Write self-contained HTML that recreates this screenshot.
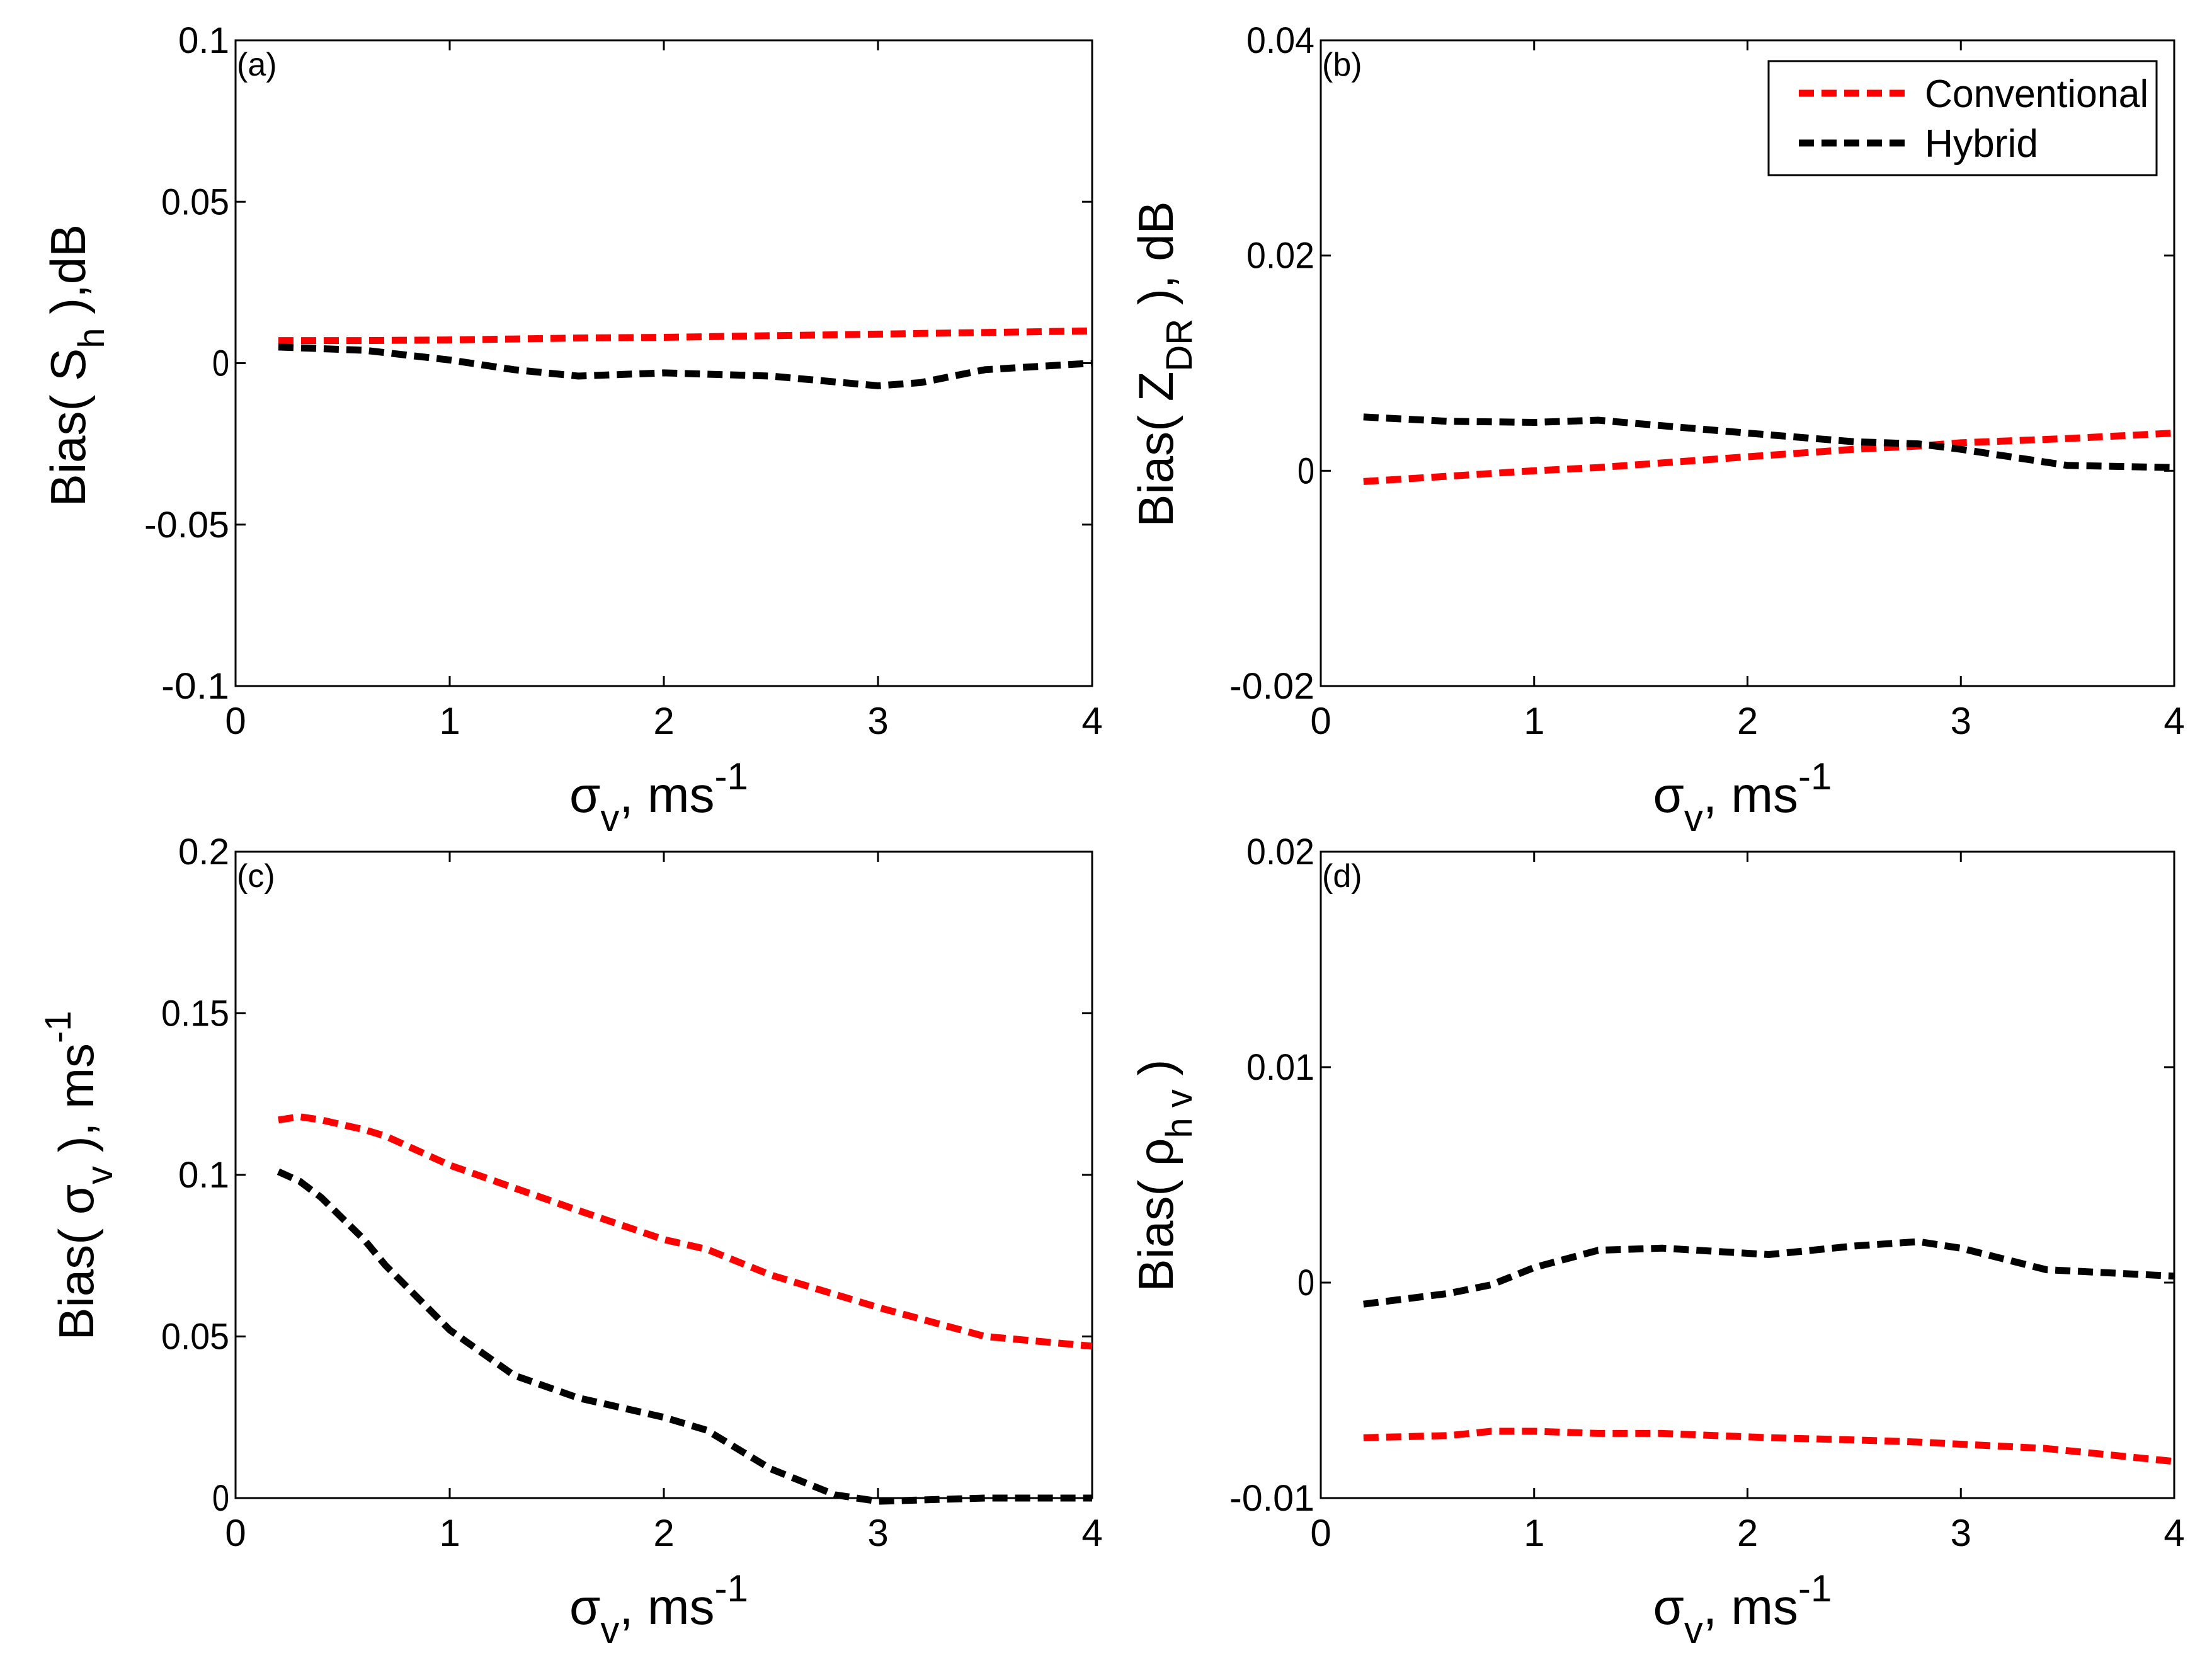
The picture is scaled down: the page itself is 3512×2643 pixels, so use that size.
<!DOCTYPE html>
<html><head><meta charset="utf-8"><style>
html,body{margin:0;padding:0;background:#fff;}
svg{display:block;font-family:"Liberation Sans",Arial,sans-serif;}
</style></head><body>
<svg id="fig" width="3512" height="2643" viewBox="0 0 3512 2643" xmlns="http://www.w3.org/2000/svg"></svg>
<script>
// ---- data ----
const xTicks = [0, 1, 2, 3, 4];
const aYTicks = [-0.1, -0.05, 0, 0.05, 0.1];
const aYLabels = ["-0.1", "-0.05", "0", "0.05", "0.1"];
const aX = [0.2, 0.6, 1.0, 1.3, 1.6, 2.0, 2.5, 3.0, 3.2, 3.5, 4.0];
const aConv = [0.007, 0.007, 0.0072, 0.0075, 0.0078, 0.008, 0.0085, 0.009, 0.0092, 0.0095, 0.010];
const aHyb = [0.005, 0.004, 0.001, -0.002, -0.004, -0.003, -0.004, -0.007, -0.006, -0.002, 0.0];

const bYTicks = [-0.02, 0, 0.02, 0.04];
const bYLabels = ["-0.02", "0", "0.02", "0.04"];
const bX = [0.2, 0.6, 1.0, 1.3, 2.0, 2.5, 2.8, 3.0, 3.5, 4.0];
const bConv = [-0.001, -0.0005, 0.0, 0.0003, 0.0013, 0.002, 0.0023, 0.0026, 0.003, 0.0035];
const bHyb = [0.005, 0.0046, 0.0045, 0.0047, 0.0035, 0.0027, 0.0025, 0.002, 0.0005, 0.0003];

const cYTicks = [0, 0.05, 0.1, 0.15, 0.2];
const cYLabels = ["0", "0.05", "0.1", "0.15", "0.2"];
const cX = [0.2, 0.3, 0.4, 0.6, 0.7, 1.0, 1.3, 1.6, 2.0, 2.2, 2.5, 2.8, 3.0, 3.5, 4.0];
const cConv = [0.117, 0.118, 0.117, 0.114, 0.112, 0.103, 0.096, 0.089, 0.080, 0.077, 0.069, 0.063, 0.059, 0.050, 0.047];
const cHyb = [0.101, 0.098, 0.093, 0.080, 0.072, 0.052, 0.038, 0.031, 0.025, 0.021, 0.009, 0.001, -0.001, 0.0, 0.0];

const dYTicks = [-0.01, 0, 0.01, 0.02];
const dYLabels = ["-0.01", "0", "0.01", "0.02"];
const dX = [0.2, 0.6, 0.8, 1.0, 1.3, 1.6, 2.1, 2.5, 2.8, 3.0, 3.4, 4.0];
const dConv = [-0.0072, -0.0071, -0.0069, -0.0069, -0.0070, -0.0070, -0.0072, -0.0073, -0.0074, -0.0075, -0.0077, -0.0083];
const dHyb = [-0.001, -0.0005, -0.0001, 0.0007, 0.0015, 0.0016, 0.0013, 0.0017, 0.0019, 0.0016, 0.0006, 0.0003];

const NS = "http://www.w3.org/2000/svg";
const svg = document.getElementById("fig");
function mk(tag, attrs, parent) {
  const e = document.createElementNS(NS, tag);
  for (const k in attrs) e.setAttribute(k, attrs[k]);
  (parent || svg).appendChild(e);
  return e;
}

function panel(id, box, yMin, yMax, yTicks, yLabels, xs, conv, hyb, tag) {
  const g = mk("g", {});
  
  
  const sx = v => box.l + (v - 0) / 4 * (box.r - box.l);
  const sy = v => box.b - (v - yMin) / (yMax - yMin) * (box.b - box.t);
  const frame = mk("rect", {x: box.l, y: box.t, width: box.r - box.l, height: box.b - box.t, fill: "none", stroke: "#000", "stroke-width": 3}, g);
  
  
  xTicks.forEach(t => {
    const x = sx(t);
    mk("line", {x1: x, y1: box.b, x2: x, y2: box.b - 16, stroke: "#000", "stroke-width": 3}, g);
    mk("line", {x1: x, y1: box.t, x2: x, y2: box.t + 16, stroke: "#000", "stroke-width": 3}, g);
    const tx = mk("text", {x: x, y: box.b + 76, "font-size": 60, "text-anchor": "middle"}, g);
    
    
    tx.textContent = String(t);
  });
  yTicks.forEach((t, i) => {
    const y = sy(t);
    mk("line", {x1: box.l, y1: y, x2: box.l + 16, y2: y, stroke: "#000", "stroke-width": 3}, g);
    mk("line", {x1: box.r, y1: y, x2: box.r - 16, y2: y, stroke: "#000", "stroke-width": 3}, g);
    const ty = mk("text", {x: box.l - 10, y: y + 20, "font-size": 58, "text-anchor": "end", textLength: yLabels[i].length * 27, lengthAdjust: "spacingAndGlyphs"}, g);
    
    
    ty.textContent = yLabels[i];
  });
  const pl = mk("text", {x: box.l + 2, y: box.t + 56, "font-size": 52}, g);
  
  
  pl.textContent = tag;
  [[conv, "#ff0000", "conventional"], [hyb, "#000000", "hybrid"]].forEach(s => {
    const d = xs.map((v, i) => (i ? "L" : "M") + sx(v).toFixed(1) + " " + sy(s[0][i]).toFixed(1)).join(" ");
    const p = mk("path", {d: d, fill: "none", stroke: s[1], "stroke-width": 11, "stroke-dasharray": "24 12"}, g);
    
    
  });
  const cx = (box.l + box.r) / 2;
  const xl = mk("text", {x: cx - 150, y: box.b + 200, "font-size": 80}, g);
  
  
  xl.innerHTML = 'σ<tspan font-size="60" dy="30">v</tspan><tspan dy="-30">, ms</tspan><tspan font-size="60" dy="-36">-1</tspan>';
  return g;
}

const A = {l: 374, r: 1734, t: 64, b: 1089};
const B = {l: 2097, r: 3452, t: 64, b: 1089};
const C = {l: 374, r: 1734, t: 1352, b: 2378};
const D = {l: 2097, r: 3452, t: 1352, b: 2378};
panel("a", A, -0.1, 0.1, aYTicks, aYLabels, aX, aConv, aHyb, "(a)");
panel("b", B, -0.02, 0.04, bYTicks, bYLabels, bX, bConv, bHyb, "(b)");
panel("c", C, 0, 0.2, cYTicks, cYLabels, cX, cConv, cHyb, "(c)");
panel("d", D, -0.01, 0.02, dYTicks, dYLabels, dX, dConv, dHyb, "(d)");

function ylab(name, x, y, html) {
  const t = mk("text", {x: 0, y: 0, "font-size": 78, "text-anchor": "middle", transform: "translate(" + x + "," + y + ") rotate(-90)"});
  
  
  t.innerHTML = html;
}
ylab("y-axis-title-a", 135, 580, 'Bias( S<tspan font-size="58" dy="30">h</tspan><tspan dy="-30"> ),dB</tspan>');
ylab("y-axis-title-b", 1862, 578, 'Bias( Z<tspan font-size="58" dy="30">DR</tspan><tspan dy="-30"> ), dB</tspan>');
ylab("y-axis-title-c", 148, 1866, 'Bias( σ<tspan font-size="58" dy="30">v</tspan><tspan dy="-30"> ), ms</tspan><tspan font-size="58" dy="-36">-1</tspan>');
ylab("y-axis-title-d", 1862, 1866, 'Bias( ρ<tspan font-size="58" dy="30">h v</tspan><tspan dy="-30"> )</tspan>');

// legend
const lg = mk("g", {});


mk("rect", {x: 2808, y: 97, width: 616, height: 181, fill: "#fff", stroke: "#000", "stroke-width": 3}, lg);
[["Conventional", "#ff0000", 148, 355], ["Hybrid", "#000000", 227, 180]].forEach(e => {
  const le = mk("g", {}, lg);
  
  
  mk("line", {x1: 2856, y1: e[2], x2: 3031, y2: e[2], stroke: e[1], "stroke-width": 11, "stroke-dasharray": "24 12"}, le);
  const t = mk("text", {x: 3056, y: e[2] + 22, "font-size": 62, textLength: e[3], lengthAdjust: "spacingAndGlyphs"}, le);
  t.textContent = e[0];
});
</script>
</body></html>
